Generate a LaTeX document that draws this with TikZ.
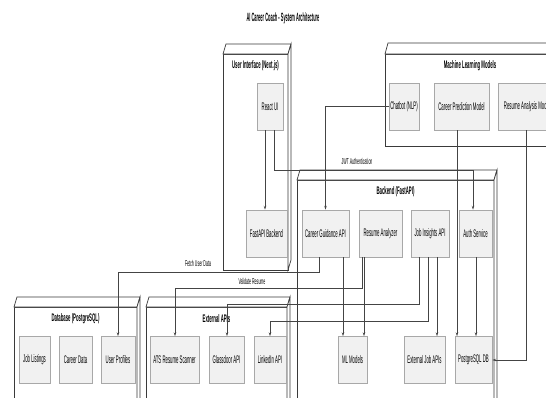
\documentclass[tikz,border=0pt]{standalone}
\usepackage{fontspec}
\setmainfont{Liberation Sans}
\usepackage{graphicx}
\usetikzlibrary{arrows.meta}
\newcommand\sq[1]{\scalebox{0.39}[1]{#1}}
\newcommand\sqe[1]{\scalebox{0.42}[1]{#1}}
\newcommand\sqt[1]{\scalebox{0.33}[1]{#1}}
\definecolor{compfill}{HTML}{F1F1F1}
\definecolor{compdraw}{HTML}{A8A8A8}
\definecolor{pkgdraw}{HTML}{3A3A3A}
\definecolor{conncol}{HTML}{444444}
\tikzset{
  comp/.style={draw=compdraw, fill=compfill, line width=0.5pt, inner sep=0pt,
    minimum height=47pt, font=\fontsize{11}{13}\selectfont},
  pkg/.style={draw=pkgdraw, line width=0.7pt, line join=miter},
  pkgtitle/.style={inner sep=0pt, font=\fontsize{11}{13}\selectfont\bfseries},
  conn/.style={draw=conncol, line width=0.7pt, -{Stealth[length=4pt,width=2.6pt]}},
  elab/.style={inner sep=0pt, font=\fontsize{8.5}{10}\selectfont},
  ttl/.style={inner sep=0pt, font=\fontsize{12}{14}\selectfont\bfseries}
}
\begin{document}
\begin{tikzpicture}[x=1pt,y=-1pt]
\useasboundingbox (0,0) rectangle (546,397);
\fill[white] (0,0) rectangle (546,397);
\clip (0,0) rectangle (546,397);

% title
\node[ttl] (title) at (283,18) {\sqt{AI Career Coach - System Architecture}};

% packages
% User Interface
\draw[pkg, fill=white] (223,54) rectangle (288,270);
\draw[pkg, fill=white] (223,54) -- (226,44) -- (291,44) -- (288,54) -- cycle;
\draw[pkg, fill=white] (288,54) -- (291,44) -- (291,260) -- (288,270) -- cycle;
\node[pkgtitle] (tui) at (255.5,66) {\sq{User Interface (Next.js)}};
% Machine Learning Models
\draw[pkg, fill=white] (385,54) rectangle (555,146);
\draw[pkg, fill=white] (385,54) -- (388,43) -- (558,43) -- (555,54) -- cycle;
\node[pkgtitle] (tml) at (470,66) {\sq{Machine Learning Models}};
% Backend
\draw[pkg, fill=white] (297,180) rectangle (494,420);
\draw[pkg, fill=white] (297,180) -- (300,170) -- (497,170) -- (494,180) -- cycle;
\draw[pkg, fill=white] (494,180) -- (497,170) -- (497,410) -- (494,420) -- cycle;
\node[pkgtitle] (tbe) at (395.5,192) {\sq{Backend (FastAPI)}};
% Database
\draw[pkg, fill=white] (14,307) rectangle (137,420);
\draw[pkg, fill=white] (14,307) -- (17,297) -- (140,297) -- (137,307) -- cycle;
\draw[pkg, fill=white] (137,307) -- (140,297) -- (140,410) -- (137,420) -- cycle;
\node[pkgtitle] (tdb) at (75.5,319) {\sq{Database (PostgreSQL)}};
% External APIs
\draw[pkg, fill=white] (146,307) rectangle (287,420);
\draw[pkg, fill=white] (146,307) -- (149,297) -- (290,297) -- (287,307) -- cycle;
\draw[pkg, fill=white] (287,307) -- (290,297) -- (290,410) -- (287,420) -- cycle;
\node[pkgtitle] (tex) at (216.5,319) {\sq{External APIs}};

% components
\node[comp, minimum width=26pt] (reactui) at (270,106.5) {\sq{React UI}};
\node[comp, minimum width=41pt] (fastapi) at (266.5,233.5) {\sq{FastAPI Backend}};
\node[comp, minimum width=30pt] (chatbot) at (404,106.5) {\sq{Chatbot (NLP)}};
\node[comp, minimum width=55pt] (careerpred) at (461.5,106.5) {\sq{Career Prediction Model}};
\node[comp, minimum width=58pt] (resumeanalysis) at (527,106.5) {\sq{Resume Analysis Model}};
\node[comp, minimum width=47pt] (cga) at (325.5,233.5) {\sq{Career Guidance API}};
\node[comp, minimum width=43pt] (resanalyzer) at (380.5,233.5) {\sq{Resume Analyzer}};
\node[comp, minimum width=38pt] (jobins) at (430,233.5) {\sq{Job Insights API}};
\node[comp, minimum width=33pt] (auth) at (475.5,233.5) {\sq{Auth Service}};
\node[comp, minimum width=29pt] (mlmodels) at (352.5,360) {\sq{ML Models}};
\node[comp, minimum width=41pt] (extjob) at (424.5,360) {\sq{External Job APIs}};
\node[comp, minimum width=37pt] (pgdb) at (473.5,360) {\sq{PostgreSQL DB}};
\node[comp, minimum width=31pt] (joblist) at (34.5,360) {\sq{Job Listings}};
\node[comp, minimum width=33pt] (careerdata) at (75.5,360) {\sq{Career Data}};
\node[comp, minimum width=34pt] (userprof) at (118,360) {\sq{User Profiles}};
\node[comp, minimum width=49pt] (ats) at (174.5,360) {\sq{ATS Resume Scanner}};
\node[comp, minimum width=35pt] (glassdoor) at (226.5,360) {\sq{Glassdoor API}};
\node[comp, minimum width=32pt] (linkedin) at (270,360) {\sq{LinkedIn API}};

% connectors
\draw[conn] ([xshift=-5pt]reactui.south) -- ([xshift=-1.5pt]fastapi.north);
\draw[conn] ([xshift=4pt]reactui.south) -- ++(0,40) -| ([xshift=-2.5pt]auth.north);
\draw[conn] (chatbot.west) -| (cga.north);
\draw[conn] ([xshift=-4.5pt]careerpred.south) -- ([xshift=-16.5pt]pgdb.north);
\draw[conn] ([xshift=-1pt]resumeanalysis.south) |- (pgdb.east);
\draw[conn] ([xshift=0.5pt]auth.south) -- ([xshift=2.5pt]pgdb.north);
\draw[conn] ([xshift=-6.5pt]cga.south) -- ++(0,15) -| (userprof.north);
\draw[conn] ([xshift=17.5pt]cga.south) -- ([xshift=-9.5pt]mlmodels.north);
\draw[conn] ([xshift=-18.5pt]resanalyzer.south) -- ++(0,31) -| ([xshift=0.5pt]ats.north);
\draw[conn] ([xshift=-16.5pt]resanalyzer.south) -- ([xshift=11.5pt]mlmodels.north);
\draw[conn] ([xshift=-11pt]jobins.south) -- ++(0,47) -| ([xshift=0.5pt]glassdoor.north);
\draw[conn] ([xshift=-2pt]jobins.south) -- ++(0,64) -| (linkedin.north);
\draw[conn] ([xshift=7pt]jobins.south) -- ([xshift=12.5pt]extjob.north);

% edge labels
\node[elab] (ljwt) at (357,161) {\sqe{JWT Authentication}};
\node[elab] (lfetch) at (198,263) {\sqe{Fetch User Data}};
\node[elab] (lval) at (252,281) {\sqe{Validate Resume}};
\end{tikzpicture}
\end{document}
